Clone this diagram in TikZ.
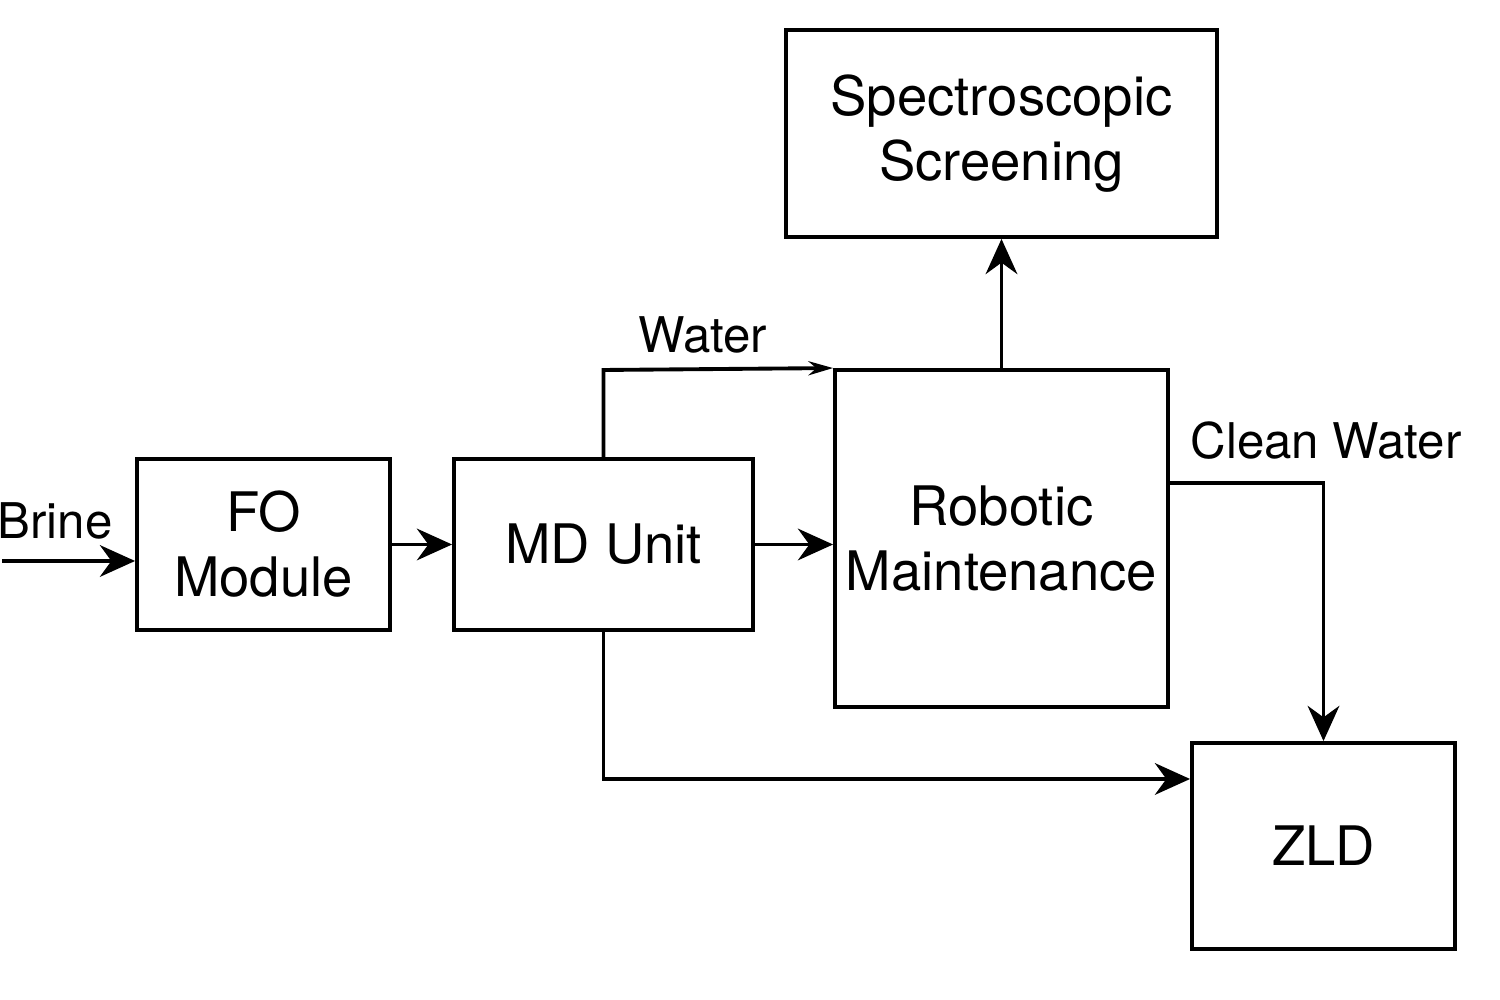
\documentclass[tikz,border=0pt]{standalone}
\usepackage{fontspec}
\setmainfont{TeX Gyre Heros}
\usetikzlibrary{arrows.meta}

\tikzset{
    blk/.style={draw, line width=1.1pt, align=center, inner sep=1pt, font=\fontsize{15.5}{18.5}\selectfont},
    flow/.style={line width=1.1pt, -{Stealth[length=10pt, width=9pt]}},
    lbl/.style={font=\fontsize{14}{17}\selectfont}
}

\begin{document}
\begin{tikzpicture}[y=-1cm, x=1cm]

    % Frame
    \useasboundingbox (0,0) rectangle (15,10);

    % Blocks
    \node[blk, minimum width=4.31cm, minimum height=2.07cm] (spec) at (10.015,1.335) {Spectroscopic\\Screening};
    \node[blk, minimum width=2.53cm, minimum height=1.71cm] (fo) at (2.635,5.445) {FO\\Module};
    \node[blk, minimum width=2.99cm, minimum height=1.71cm] (md) at (6.035,5.445) {MD Unit};
    \node[blk, minimum width=3.33cm, minimum height=3.37cm] (robot) at (10.015,5.385) {Robotic\\Maintenance};
    \node[blk, minimum width=2.63cm, minimum height=2.06cm] (zld) at (13.235,8.46) {ZLD};

    % Free end
    \coordinate (brine) at (0.02,5.61);

    % Connectors
    \draw[flow] (brine) -- (brine -| fo.west);
    \node[lbl] (brinelbl) at (0.55,5.21) {Brine};
    \draw[flow] (fo.east) -- (md.west);
    \draw[flow] (md.east) -- (md.east -| robot.west);
    \draw[line width=1.1pt, -{Stealth[length=7pt, width=4pt]}] (md.north) -- (6.035,3.70) -- (robot.north west);
    \node[lbl] (waterlbl) at (7.03,3.35) {Water};
    \draw[flow] (robot.north) -- (spec.south);
    \draw[flow] ([yshift=-1.15cm]robot.north east) -| (zld.north);
    \node[lbl] (cleanlbl) at (13.26,4.41) {Clean Water};
    \draw[flow] (md.south) |- ([yshift=0.67cm]zld.west);

\end{tikzpicture}
\end{document}
